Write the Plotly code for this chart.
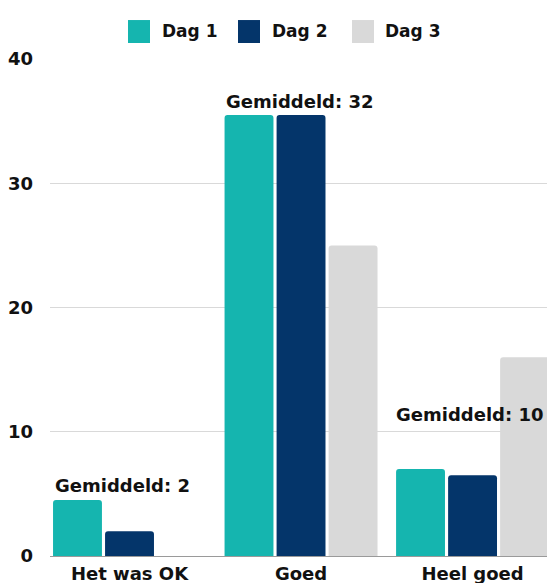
import plotly.graph_objects as go

categories = ["Het was OK", "Goed", "Heel goed"]
series_names = ["Dag 1", "Dag 2", "Dag 3"]
dag1 = [4.5, 35.5, 7]
dag2 = [2, 35.5, 6.5]
dag3 = [0, 25, 16]
colors = ["#15b5af", "#04356a", "#d9d9d9"]
avg_labels = ["Gemiddeld: 2", "Gemiddeld: 32", "Gemiddeld: 10"]
avg_pos_x = [-0.04, 0.99, 1.98]
avg_pos_y = [5.67, 36.6, 11.4]
y_ticks = [0, 10, 20, 30, 40]

W, H = 547, 583
L, T = 50, 59
R = 0
B = H - 556.5
FONT = "DejaVu Sans"
XR = [-0.4636, 2.434]

fig = go.Figure()
for name, vals, col in zip(series_names, [dag1, dag2, dag3], colors):
    fig.add_trace(go.Bar(
        x=list(range(len(categories))), y=vals, name=name,
        marker=dict(color=col, line=dict(width=0), cornerradius=3),
        showlegend=False,
    ))

for t, xv, yv in zip(avg_labels, avg_pos_x, avg_pos_y):
    fig.add_annotation(x=xv, y=yv, xref="x", yref="y", text="<b>%s</b>" % t,
                       showarrow=False, font=dict(family=FONT, size=18, color="#111111"),
                       xanchor="center", yanchor="middle")

# custom legend (positions given in window pixels)
pw = W - L - R
ph = H - T - B
def px_x(p):
    return (p - L) / pw
def px_y(p):
    return (H - B - p) / ph

leg_sq_x = [128, 238, 352]
leg_tx_x = [160, 270, 383]
for i, (name, col) in enumerate(zip(series_names, colors)):
    fig.add_shape(type="rect", xref="paper", yref="paper",
                  x0=px_x(leg_sq_x[i]), x1=px_x(leg_sq_x[i] + 22),
                  y0=px_y(43), y1=px_y(20), fillcolor=col, line=dict(width=0))
    fig.add_annotation(xref="paper", yref="paper", x=px_x(leg_tx_x[i]), y=px_y(31),
                       text="<b>%s</b>" % name, showarrow=False, xanchor="left",
                       yanchor="middle", font=dict(family=FONT, size=17, color="#111111"))

fig.update_layout(
    width=W, height=H,
    margin=dict(l=L, r=R, t=T, b=B, autoexpand=False),
    paper_bgcolor="white", plot_bgcolor="white",
    barmode="group", bargap=0.09, bargroupgap=0.06,
    font=dict(family=FONT, size=18, color="#111111"),
)
fig.update_xaxes(
    tickmode="array", tickvals=list(range(len(categories))),
    ticktext=["<b>%s</b>" % c for c in categories],
    range=XR, showgrid=False, showline=True, linecolor="#9a9a9a",
    linewidth=1, ticks="", tickfont=dict(family=FONT, size=18, color="#111111"),
    ticklabelstandoff=1,
)
fig.update_yaxes(
    range=[0, 40], tickvals=y_ticks, ticktext=["<b>%d</b>" % v for v in y_ticks],
    showgrid=True, gridcolor="#d9d9d9", gridwidth=1, zeroline=False,
    ticks="", tickfont=dict(family=FONT, size=18, color="#111111"),
    ticklabelstandoff=16,
)

fig.write_html("out.html", config={"displayModeBar": False},
               post_script="document.body.style.margin='0';document.body.style.overflow='hidden';")
